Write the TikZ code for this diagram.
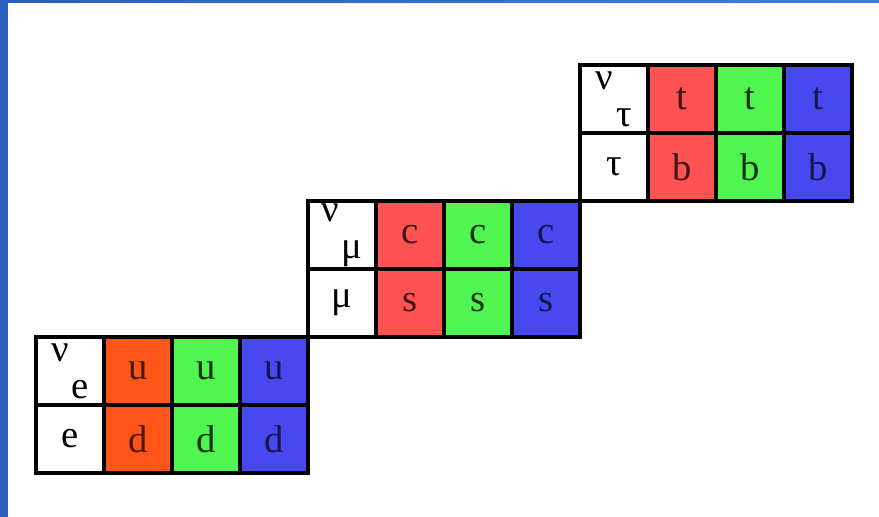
\documentclass[tikz,border=0pt]{standalone}
\usepackage{fontspec}
\setmainfont{Liberation Serif}
\usetikzlibrary{positioning}
\usepackage{xcolor}

\definecolor{qorange}{RGB}{255,85,25}
\definecolor{qred}{RGB}{255,82,82}
\definecolor{qgreen}{RGB}{80,245,80}
\definecolor{qblue}{RGB}{72,72,240}
\definecolor{frameblue}{RGB}{40,95,192}
\definecolor{framelight}{RGB}{66,122,226}

% neutrino label with a big lowered subscript
\newcommand{\nulabel}[1]{\raisebox{0.5em}{ν}\hspace{0.08em}\raisebox{-0.45em}{#1}}

\begin{document}
\begin{tikzpicture}[
    node distance=0pt,
    cell/.style={rectangle, draw, line width=0.08cm, minimum size=1.36cm, inner sep=0pt, outer sep=0pt, font=\fontsize{22}{24}\selectfont},
    lepton/.style={cell, fill=white, text=black},
    orangeq/.style={cell, fill=qorange, text=qorange!30!black},
    redq/.style={cell, fill=qred, text=qred!25!black},
    greenq/.style={cell, fill=qgreen, text=qgreen!20!black},
    blueq/.style={cell, fill=qblue, text=qblue!30!black}
]

% Frame
\fill[white] (0,0) rectangle (17.58,10.34);
\fill[frameblue] (0,0) rectangle (0.16,10.34);
\shade[left color=frameblue, right color=framelight] (0,10.28) rectangle (17.58,10.34);
\useasboundingbox (0,0) rectangle (17.58,10.34);

% First generation
\node[lepton, anchor=south west] (e) at (0.72,0.88) {e};
\node[lepton, above=of e] (nu-e) {\nulabel{e}};
\node[orangeq, right=of nu-e] (u-r) {u};
\node[greenq, right=of u-r] (u-g) {u};
\node[blueq, right=of u-g] (u-b) {u};
\node[orangeq, right=of e] (d-r) {d};
\node[greenq, right=of d-r] (d-g) {d};
\node[blueq, right=of d-g] (d-b) {d};

% Second generation
\node[lepton, above right=of u-b] (mu) {μ};
\node[lepton, above=of mu] (nu-mu) {\nulabel{μ}};
\node[redq, right=of nu-mu] (c-r) {c};
\node[greenq, right=of c-r] (c-g) {c};
\node[blueq, right=of c-g] (c-b) {c};
\node[redq, right=of mu] (s-r) {s};
\node[greenq, right=of s-r] (s-g) {s};
\node[blueq, right=of s-g] (s-b) {s};

% Third generation
\node[lepton, above right=of c-b] (tau) {τ};
\node[lepton, above=of tau] (nu-tau) {\nulabel{τ}};
\node[redq, right=of nu-tau] (t-r) {t};
\node[greenq, right=of t-r] (t-g) {t};
\node[blueq, right=of t-g] (t-b) {t};
\node[redq, right=of tau] (b-r) {b};
\node[greenq, right=of b-r] (b-g) {b};
\node[blueq, right=of b-g] (b-b) {b};

\end{tikzpicture}
\end{document}
